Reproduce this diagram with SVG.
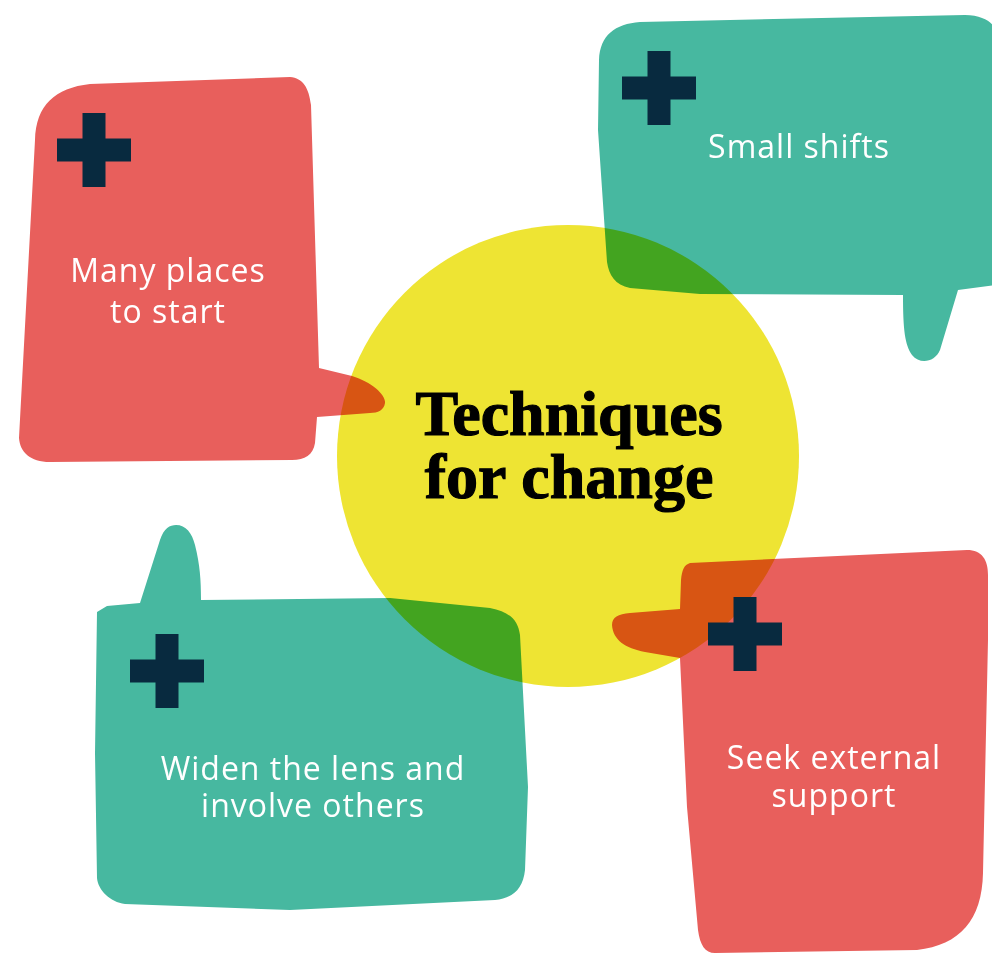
<svg xmlns="http://www.w3.org/2000/svg" width="992" height="954" viewBox="0 0 992 954">
<style>
.red{fill:#E85F5C;mix-blend-mode:multiply}
.teal{fill:#47B8A0;mix-blend-mode:multiply}
.plus{fill:#082A3F}
.lbl{font-family:"Open Sans",Lato,"Liberation Sans",sans-serif;font-size:32px;letter-spacing:1px;fill:#fff;text-anchor:middle}
.title{font-family:"Liberation Serif","DejaVu Serif",serif;font-weight:bold;font-size:64px;fill:#000;stroke:#000;stroke-width:1.2;text-anchor:middle}
</style>
<defs>
<path id="plus" d="M-11.5 -37 H11.5 V-11.5 H37 V11.5 H11.5 V37 H-11.5 V11.5 H-37 V-11.5 H-11.5 Z"/>
</defs>
<rect width="992" height="954" fill="#fff"/>
<g id="center">
<circle cx="568" cy="456" r="231" fill="#EEE433"/>
</g>
<g id="many-places">
<path class="red" d="M 35 140 C 36 105, 55 88, 90 84 L 290 77 C 303 78, 309 88, 311 105 L 319 368 L 352 376 C 372 382, 386 395, 385 403 C 384 410, 378 413, 370 413 L 317 417 L 315 443 C 313 455, 305 460, 292 460 L 50 462 C 30 462, 20 452, 19 438 Z"/>
<use href="#plus" class="plus" x="94" y="150"/>
<text class="lbl" x="168" y="282">Many places</text>
<text class="lbl" x="168" y="323">to start</text>
</g>
<g id="small-shifts">
<path class="teal" d="M 599 60 C 600 35, 615 24, 640 22 L 965 15 C 985 15, 995 25, 995 30 L 995 285 L 958 290 L 940 350 C 935 362, 920 365, 912 355 C 905 345, 903 330, 903 295 L 700 294 L 630 288 C 615 285, 609 275, 607 262 L 598 130 Z"/>
<use href="#plus" class="plus" x="659" y="88"/>
<text class="lbl" x="799" y="158">Small shifts</text>
</g>
<g id="widen-lens">
<path class="teal" d="M 107 606 L 140 603 L 160 540 C 164 528, 170 525, 176 525 C 186 525, 192 533, 195 545 C 200 565, 201 580, 201 600 L 390 598 L 490 608 C 510 612, 518 620, 520 635 L 528 787 L 525 870 C 523 890, 512 898, 495 900 L 290 910 L 125 904 C 110 902, 98 890, 97 878 L 95 753 L 97 612 Z"/>
<use href="#plus" class="plus" x="167" y="671"/>
<text class="lbl" x="313" y="780">Widen the lens and</text>
<text class="lbl" x="313" y="817">involve others</text>
</g>
<g id="external-support">
<path class="red" d="M 690 563 L 967 550 C 982 550, 988 560, 988 575 L 988 640 L 983 873 C 982 920, 960 945, 917 950 L 715 953 C 705 953, 700 945, 698 930 L 687 807 L 680 658 L 645 652 C 625 648, 613 640, 612 625 C 612 617, 618 614, 630 613 L 680 609 L 681 580 C 682 570, 684 565, 690 563 Z"/>
<use href="#plus" class="plus" x="745" y="634"/>
<text class="lbl" x="834" y="769">Seek external</text>
<text class="lbl" x="834" y="807">support</text>
</g>
<g id="title">
<text class="title" x="569" y="435">Techniques</text>
<text class="title" x="569" y="498">for change</text>
</g>
<g id="connectors"/>
</svg>
